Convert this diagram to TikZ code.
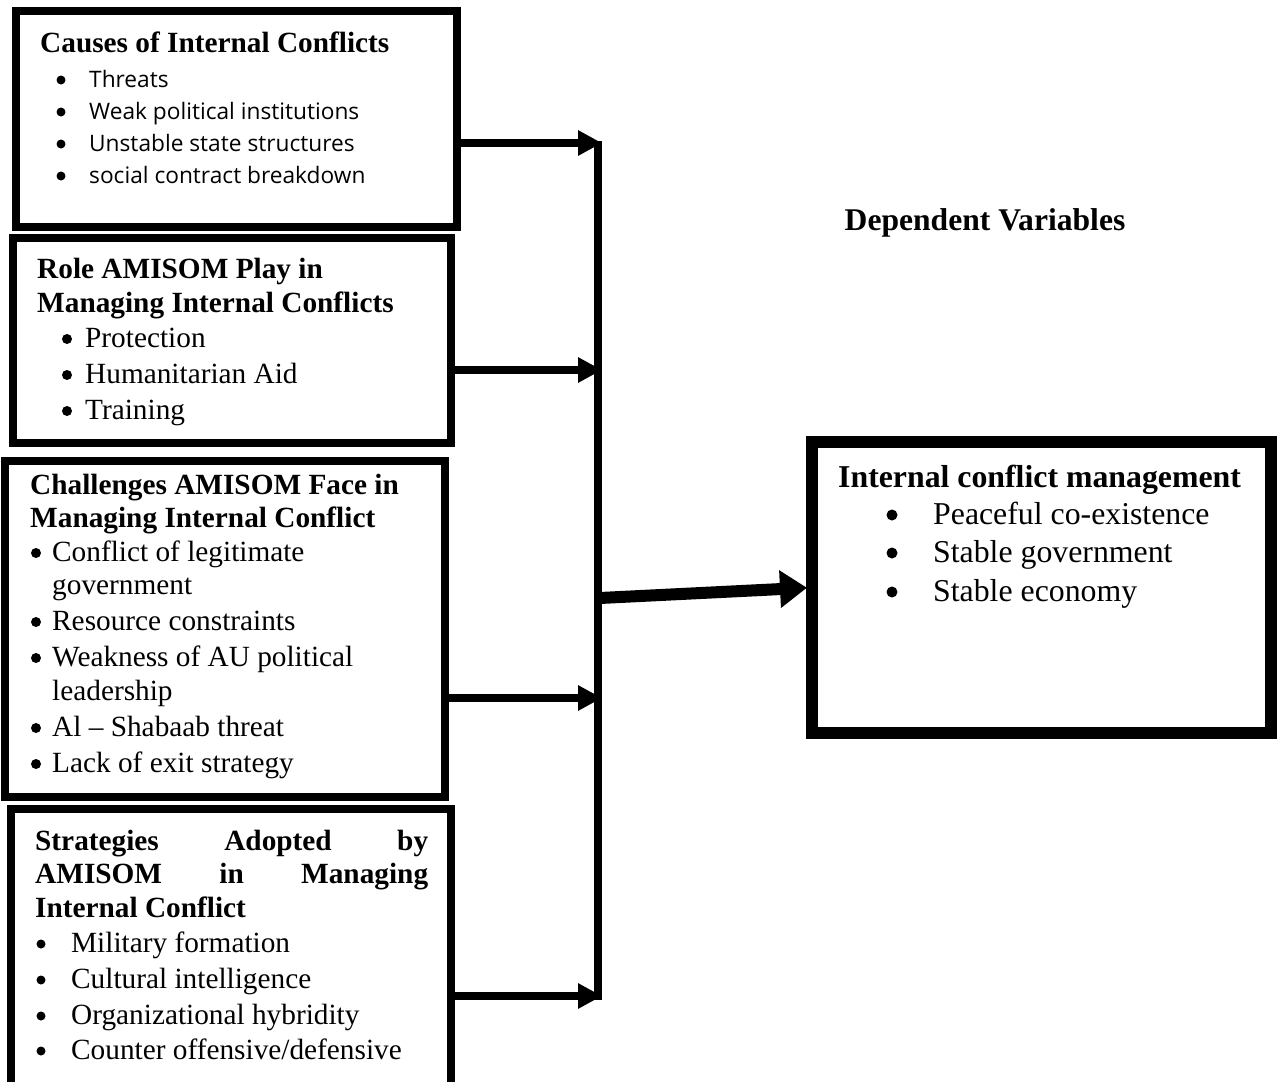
\documentclass[tikz,border=0pt]{standalone}
\usepackage{fontspec}
\setmainfont{Liberation Serif}
\newfontfamily\itemsans{Open Sans}
\usetikzlibrary{arrows.meta}
\tikzset{
  box/.style={draw,line width=8pt,inner sep=0pt,outer sep=0pt,anchor=north west},
  txt/.style={anchor=base west,inner sep=0pt,font=\fontsize{29.3}{34}\selectfont},
  head/.style={txt,font=\fontsize{29.3}{34}\selectfont\bfseries},
  bul/.style={circle,fill,inner sep=0pt,minimum size=10pt},
  feed/.style={line width=8pt,-{Triangle[length=24pt,width=24pt]}},
}
\begin{document}
\begin{tikzpicture}[x=1pt,y=-1pt]
\useasboundingbox (0,0) rectangle (1278,1082);
% boxes
\node[box,minimum width=440.5pt,minimum height=215.5pt] (causes) at (16,11) {};
\node[box,minimum width=438pt,minimum height=205pt] (role) at (12.5,238) {};
\node[box,minimum width=439.5pt,minimum height=336pt] (chall) at (5,461) {};
\node[box,minimum width=439.5pt,minimum height=300pt] (strat) at (11,809) {};
\node[box,line width=12pt,minimum width=459pt,minimum height=291pt] (dv) at (812,442) {};
% causes
\node[head] (causestitle) at (40,52) {Causes of Internal Conflicts};
\foreach \y/\t in {87/Threats,119/Weak political institutions,151/Unstable state structures,183/social contract breakdown}
{\node[bul,minimum size=9pt] (cb\y) at (61,\y-7) {};
 \node[txt,font=\fontsize{22.7}{26}\itemsans] (ct\y) at (89,\y) {\t};}
% role
\node[head] (roletitle) at (37,278) {Role AMISOM Play in};
\node[head] (roletitleb) at (37,312) {Managing Internal Conflicts};
\foreach \y/\t in {347/Protection,383/Humanitarian Aid,419/Training}
{\node[bul] (rb\y) at (67,\y-8) {};
 \node[txt] (rt\y) at (85,\y) {\t};}
% challenges
\node[head] (challtitle) at (30,494) {Challenges AMISOM Face in};
\node[head] (challtitleb) at (30,527) {Managing Internal Conflict};
\foreach \y in {561,630,666,736,772} {\node[bul] (hb\y) at (36,\y-8) {};}
\foreach \y/\t in {561/Conflict of legitimate,594/government,630/Resource constraints,666/Weakness of AU political,700/leadership,736/Al -- Shabaab threat,772/Lack of exit strategy}
{\node[txt] (ht\y) at (52,\y) {\t};}
% strategies
\node[head] (strattitle) at (35,850) {\makebox[393pt][s]{Strategies Adopted by}};
\node[head] (strattitleb) at (35,883) {\makebox[393pt][s]{AMISOM in Managing}};
\node[head] (strattitlec) at (35,917) {Internal Conflict};
\foreach \y/\t in {952/Military formation,988/Cultural intelligence,1024/Organizational hybridity,1059/{Counter offensive/defensive}}
{\node[bul,minimum size=9pt] (sb\y) at (41,\y-8) {};
 \node[txt] (st\y) at (71,\y) {\t};}
% dependent variable
\node[head,anchor=base,font=\fontsize{31.6}{36}\selectfont\bfseries] (dvlabel) at (985,230) {Dependent Variables};
\node[head,font=\fontsize{31.8}{36}\selectfont\bfseries] (dvtitle) at (838,487) {Internal conflict management};
\foreach \y/\t in {524/Peaceful co-existence,562/Stable government,601/Stable economy}
{\node[bul,minimum size=11pt] (db\y) at (892,\y-9) {};
 \node[txt,font=\fontsize{31.8}{36}\selectfont] (dt\y) at (933,\y) {\t};}
% connectors
\coordinate (bustop) at (598,141);
\coordinate (busbot) at (598,1000);
\draw[line width=8pt] (bustop) -- (busbot);
\foreach \src/\y in {causes/143,role/370,chall/698,strat/996}
\draw[feed] (\src.east |- 0,\y) -- (602,\y);
\coordinate (busout) at (600,598);
\draw[line width=12pt,-{Triangle[length=27pt,width=36pt]},shorten >=5pt] (busout) -- (dv.west);
\end{tikzpicture}
\end{document}
